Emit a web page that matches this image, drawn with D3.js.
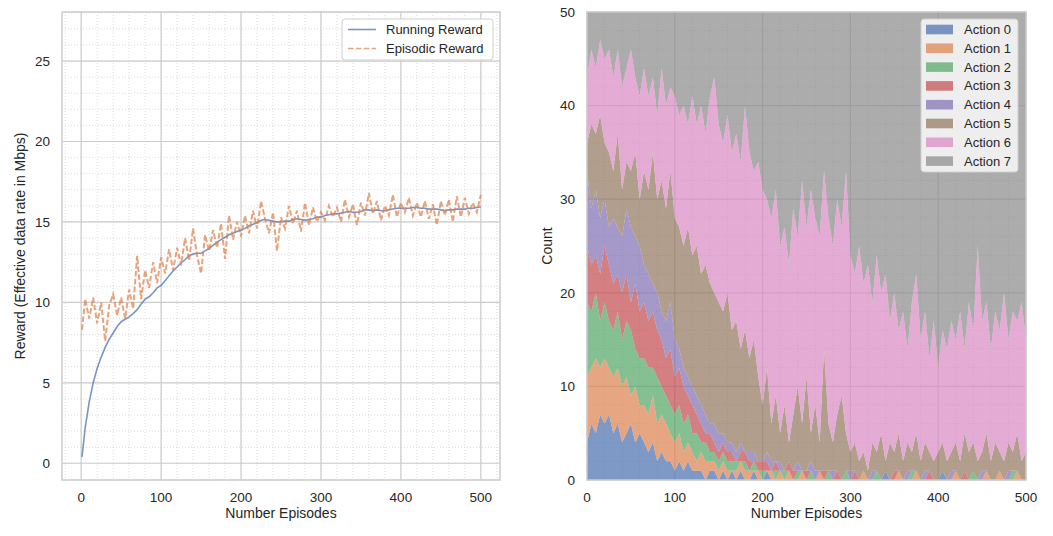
<!DOCTYPE html>
<html>
<head>
<meta charset="utf-8">
<title>reward and action counts</title>
<script src="https://cdn.jsdelivr.net/npm/d3@7"></script>
<style>
  body { margin: 0; padding: 0; background: #fff; }
  svg { font-family: "Liberation Sans", Arial, sans-serif; }
</style>
</head>
<body>
<div id="chart"></div>
<script>
// episodes sampled every 5
const episodes = [1,5,10,15,20,25,30,35,40,45,50,55,60,65,70,75,80,85,90,95,
  100,105,110,115,120,125,130,135,140,145,150,155,160,165,170,175,180,185,190,195,
  200,205,210,215,220,225,230,235,240,245,250,255,260,265,270,275,280,285,290,295,
  300,305,310,315,320,325,330,335,340,345,350,355,360,365,370,375,380,385,390,395,
  400,405,410,415,420,425,430,435,440,445,450,455,460,465,470,475,480,485,490,495,500]

const runningReward = [0.4,2.2,3.8,5.0,5.9,6.6,7.2,7.7,8.1,8.5,
  8.8,8.95,9.1,9.3,9.55,9.9,10.2,10.35,10.6,10.9,
  11.05,11.35,11.65,11.95,12.2,12.45,12.65,12.9,13.0,13.05,
  13.05,13.2,13.35,13.55,13.75,13.9,14.05,14.2,14.3,14.4,
  14.5,14.6,14.75,14.85,14.95,15.1,15.15,15.1,15.05,15.0,
  15.0,15.05,15.05,15.15,15.2,15.15,15.1,15.15,15.2,15.3,
  15.3,15.4,15.45,15.5,15.5,15.55,15.6,15.65,15.6,15.6,
  15.65,15.75,15.75,15.7,15.75,15.7,15.7,15.75,15.8,15.85,
  15.85,15.85,15.85,15.9,15.9,15.85,15.85,15.8,15.8,15.8,
  15.75,15.7,15.75,15.75,15.8,15.8,15.8,15.85,15.85,15.9,15.95]

const episodicReward = [8.3,10.2,9.0,10.3,8.7,10.0,7.6,9.8,10.5,9.2,
  10.3,9.0,10.8,9.6,12.9,10.2,12.0,10.9,12.5,11.2,
  12.8,11.8,13.3,12.0,13.4,12.3,14.0,12.6,14.6,12.9,
  11.8,14.2,13.2,14.5,13.4,14.9,12.7,15.4,13.9,15.0,
  14.1,15.4,14.3,15.7,14.6,16.3,15.2,14.3,15.6,13.2,
  15.3,14.6,16.0,14.9,15.7,14.4,16.2,14.8,15.9,15.0,
  15.6,15.1,16.0,15.3,15.9,15.0,16.4,15.3,16.1,14.8,
  16.2,15.4,16.8,15.5,16.3,15.1,16.0,15.4,16.7,15.3,
  16.2,15.6,16.5,15.4,16.2,15.3,16.3,15.2,16.1,14.8,
  16.3,15.4,16.4,15.0,16.6,15.3,16.5,15.5,16.2,15.6,16.7]

// action counts per episode (50 steps each)
const action0 = [4,6,5,7,6,7,5,6,4,5, 6,4,5,4,3,4,2,3,2,2, 1,2,1,2,1,1,1,0,1,1,
  0,1,0,1,0,1,0,0,1,0, 0,1,0,0,0,0,0,0,0,0, 0,0,0,0,0,0,0,0,0,0,
  0,0,0,0,0,0,0,0,1,0, 0,0,0,0,0,0,0,0,0,0, 0,1,0,0,0,0,0,0,0,0,
  0,0,0,0,0,0,0,0,0,0, 0]
const action1 = [7,6,8,5,7,5,6,6,6,6, 3,6,3,4,4,5,4,4,4,3, 3,3,2,2,2,1,2,2,1,1,
  1,1,1,0,1,1,1,1,0,1, 0,0,1,0,1,0,1,0,0,1, 0,0,0,1,0,0,0,0,0,0,
  0,0,0,1,0,0,0,0,0,0, 0,1,0,0,0,1,0,0,0,0, 0,0,0,0,1,0,0,0,0,0,
  0,1,0,0,1,0,0,0,1,0, 0]
const action2 = [8,6,7,5,6,5,5,6,5,6, 7,4,5,5,5,3,5,3,3,3, 3,3,3,3,2,3,1,2,1,1,
  1,1,1,1,1,0,1,0,1,0, 1,0,0,1,0,1,0,0,1,0, 0,1,0,0,0,1,0,0,0,1,
  0,0,0,0,0,0,1,0,0,0, 0,0,0,0,1,0,0,0,0,0, 0,0,0,0,0,0,0,0,1,0,
  0,0,0,0,0,0,0,1,0,0, 0]
const action3 = [6,5,4,5,6,6,5,4,5,5, 3,7,5,6,5,6,5,5,4,6, 4,4,4,2,3,2,2,1,2,1,
  1,1,1,1,0,1,1,1,0,1, 1,1,0,1,0,0,1,1,0,0, 1,0,0,0,1,0,0,1,0,0,
  0,1,0,0,0,0,0,0,0,0, 1,0,0,0,0,0,0,0,1,0, 0,0,0,0,0,0,1,0,0,0,
  0,0,0,0,0,0,0,0,0,0, 0]
const action4 = [8,6,7,6,5,4,7,5,6,7, 8,5,7,4,5,3,4,3,4,5, 4,2,2,2,2,2,2,2,1,2,
  2,1,1,1,1,1,0,1,1,0, 0,1,1,0,1,0,0,0,1,0, 0,1,1,0,0,0,1,0,0,0,
  1,0,0,0,0,1,0,0,0,0, 0,0,0,1,0,0,0,1,0,0, 0,0,0,1,0,0,0,0,0,0,
  1,0,0,0,0,0,1,0,0,0, 0]
const action5 = [3,9,6,11,6,8,5,10,5,5, 6,9,5,10,9,14,10,14,12,14, 13,13,13,16,14,16,14,16,15,14,
  14,13,16,12,14,10,13,10,12,9, 6,9,4,7,3,7,2,6,8,5, 10,3,7,3,13,5,3,6,9,4,
  2,3,2,2,1,3,2,5,1,4, 2,4,2,3,2,4,2,3,2,2, 3,3,2,2,3,2,4,3,3,2,
  2,4,2,4,2,2,3,2,4,2, 3]
const action6 = [7,8,7,8,9,11,10,9,11,10, 13,8,11,11,10,8,9,12,11,9, 13,12,15,11,17,13,18,14,20,23,
  19,18,19,19,20,20,24,22,18,23, 23,18,22,22,20,19,19,22,16,26, 16,26,20,22,19,22,21,23,18,28,
  21,18,23,18,22,15,21,15,20,13, 17,11,16,10,16,17,13,14,10,15, 9,12,12,14,11,16,9,16,12,23,
  14,14,12,14,13,18,11,15,12,17, 12]
const action7 = [7,4,6,3,5,4,7,4,8,6, 4,7,9,6,9,7,11,6,10,8, 9,11,10,12,9,12,10,13,9,7,
  12,14,11,15,13,16,10,15,17,16, 19,20,22,19,25,23,27,21,24,18, 23,19,22,24,17,22,25,20,23,17,
  26,28,25,29,27,31,26,30,28,33, 30,34,32,36,31,28,35,32,37,33, 38,34,36,33,35,32,36,31,34,25,
  33,31,36,32,34,30,35,32,33,31, 35]

const actionNames = ["Action 0","Action 1","Action 2","Action 3","Action 4","Action 5","Action 6","Action 7"]
const actionSeries = [action0, action1, action2, action3, action4, action5, action6, action7]
const lineNames = ["Running Reward", "Episodic Reward"]

const xTicks = [0,100,200,300,400,500]
const yTicksLeft = [0,5,10,15,20,25]
const yTicksRight = [0,10,20,30,40,50]

const palette = ["#4c72b0","#dd8452","#55a868","#c44e52","#8172b3","#937860","#da8bc3","#8c8c8c"]

const width = 1053, height = 536
const svg = d3.select("#chart").append("svg")
  .attr("width", width)
  .attr("height", height)

const L = {left: 62, right: 500, top: 12, bottom: 480}
const R = {left: 587, right: 1026, top: 12, bottom: 480}

const xL = d3.scaleLinear().domain([-24, 524]).range([L.left, L.right])
const yL = d3.scaleLinear().domain([-1.04, 28.05]).range([L.bottom, L.top])
const xR = d3.scaleLinear().domain([0, 500]).range([R.left, R.right])
const yR = d3.scaleLinear().domain([0, 50]).range([R.bottom, R.top])

// grid helper
function drawGrid(g, box, x, y, xMinor, yMinor, xMajor, yMajor) {
  g.selectAll(".vmin").data(xMinor).join("line")
    .attr("x1", d => x(d)).attr("x2", d => x(d))
    .attr("y1", box.top).attr("y2", box.bottom)
    .attr("stroke", "#d2d2d2").attr("stroke-width", 0.8).attr("stroke-dasharray", "1,2")
  g.selectAll(".hmin").data(yMinor).join("line")
    .attr("y1", d => y(d)).attr("y2", d => y(d))
    .attr("x1", box.left).attr("x2", box.right)
    .attr("stroke", "#d2d2d2").attr("stroke-width", 0.8).attr("stroke-dasharray", "1,2")
  g.selectAll(".vmaj").data(xMajor).join("line")
    .attr("x1", d => x(d)).attr("x2", d => x(d))
    .attr("y1", box.top).attr("y2", box.bottom)
    .attr("stroke", "#cccccc").attr("stroke-width", 1.2)
  g.selectAll(".hmaj").data(yMajor).join("line")
    .attr("y1", d => y(d)).attr("y2", d => y(d))
    .attr("x1", box.left).attr("x2", box.right)
    .attr("stroke", "#cccccc").attr("stroke-width", 1.2)
}

function drawAxes(box, x, y, xt, yt, xlabel, ylabel, ylabelX) {
  const g = svg.append("g")
  g.selectAll(".xt").data(xt).join("text")
    .attr("x", d => x(d)).attr("y", 502)
    .attr("text-anchor", "middle").attr("font-size", 13.5).attr("fill", "#262626")
    .text(d => d)
  g.selectAll(".yt").data(yt).join("text")
    .attr("x", box.left - 12).attr("y", d => y(d) + 4.7)
    .attr("text-anchor", "end").attr("font-size", 13.5).attr("fill", "#262626")
    .text(d => d)
  g.append("text")
    .attr("x", (box.left + box.right) / 2).attr("y", 518)
    .attr("text-anchor", "middle").attr("font-size", 14).attr("fill", "#262626")
    .text(xlabel)
  g.append("text")
    .attr("transform", `translate(${ylabelX},${(box.top + box.bottom) / 2}) rotate(-90)`)
    .attr("text-anchor", "middle").attr("font-size", 14).attr("fill", "#262626")
    .text(ylabel)
  svg.append("rect")
    .attr("x", box.left).attr("y", box.top)
    .attr("width", box.right - box.left).attr("height", box.bottom - box.top)
    .attr("fill", "none").attr("stroke", "#cccccc").attr("stroke-width", 1.5)
}

// ---------- left: rewards ----------
const defs = svg.append("defs")
defs.append("clipPath").attr("id", "clipL").append("rect")
  .attr("x", L.left).attr("y", L.top).attr("width", L.right - L.left).attr("height", L.bottom - L.top)
defs.append("clipPath").attr("id", "clipR").append("rect")
  .attr("x", R.left).attr("y", R.top).attr("width", R.right - R.left).attr("height", R.bottom - R.top)

const gL = svg.append("g")
drawGrid(gL, L, xL, yL,
  d3.range(-20, 521, 20), d3.range(-1, 29, 1),
  xTicks, yTicksLeft)

const rewardLine = (vals) => d3.line()
  .x((d, i) => xL(episodes[i]))
  .y(d => yL(d))(vals)

const plotL = svg.append("g").attr("clip-path", "url(#clipL)")
plotL.append("path")
  .attr("d", rewardLine(runningReward))
  .attr("fill", "none").attr("stroke", palette[0]).attr("stroke-opacity", 0.75)
  .attr("stroke-width", 1.6)
plotL.append("path")
  .attr("d", rewardLine(episodicReward))
  .attr("fill", "none").attr("stroke", palette[1]).attr("stroke-opacity", 0.75)
  .attr("stroke-width", 2).attr("stroke-dasharray", "5.5,2.4")

drawAxes(L, xL, yL, xTicks, yTicksLeft, "Number Episodes",
  "Reward (Effective data rate in Mbps)", 25)

// legend left
const legL = svg.append("g").attr("transform", "translate(342,19)")
legL.append("rect").attr("width", 151).attr("height", 41).attr("rx", 3)
  .attr("fill", "#fff").attr("fill-opacity", 0.8).attr("stroke", "#d0d0d0")
lineNames.forEach((name, i) => {
  const yy = 10.5 + i * 19
  legL.append("line").attr("x1", 6).attr("x2", 34).attr("y1", yy).attr("y2", yy)
    .attr("stroke", palette[i]).attr("stroke-opacity", 0.75).attr("stroke-width", 1.6)
    .attr("stroke-dasharray", i === 1 ? "5.5,2.4" : null)
  legL.append("text").attr("x", 44).attr("y", yy + 4.5)
    .attr("font-size", 13).attr("fill", "#262626").text(name)
})

// ---------- right: stacked action counts ----------
const table = episodes.map((e, i) => {
  const row = {ep: e === 1 ? 0 : e}
  actionNames.forEach((k, j) => row[k] = actionSeries[j][i])
  return row
})
const stacked = d3.stack().keys(actionNames)(table)

const gR = svg.append("g")
drawGrid(gR, R, xR, yR,
  d3.range(20, 500, 20), d3.range(2, 50, 2),
  xTicks, yTicksRight)

const area = d3.area()
  .x(d => xR(d.data.ep))
  .y0(d => yR(d[0]))
  .y1(d => yR(d[1]))

svg.append("g").attr("clip-path", "url(#clipR)")
  .selectAll("path").data(stacked).join("path")
  .attr("d", area)
  .attr("fill", (d, i) => palette[i])
  .attr("fill-opacity", 0.72)

drawAxes(R, xR, yR, xTicks, yTicksRight, "Number Episodes", "Count", 552)

// legend right
const legR = svg.append("g").attr("transform", "translate(921,19)")
legR.append("rect").attr("width", 97).attr("height", 153).attr("rx", 3)
  .attr("fill", "#fff").attr("fill-opacity", 0.8).attr("stroke", "#d0d0d0")
actionNames.forEach((name, i) => {
  const yy = 10.5 + i * 18.8
  legR.append("rect").attr("x", 5).attr("y", yy - 4.8).attr("width", 27).attr("height", 9.6)
    .attr("fill", palette[i]).attr("fill-opacity", 0.72)
  legR.append("text").attr("x", 43).attr("y", yy + 4.5)
    .attr("font-size", 13).attr("fill", "#262626").text(name)
})
</script>
</body>
</html>
